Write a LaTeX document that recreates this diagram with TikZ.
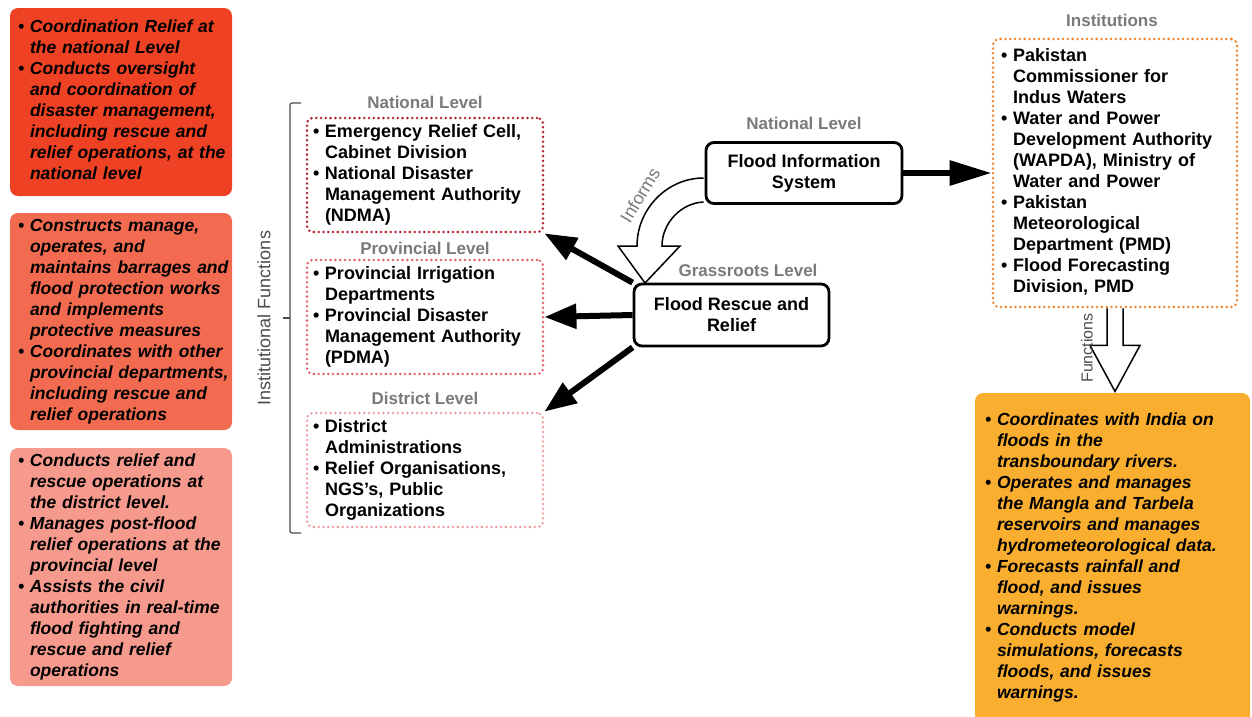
\documentclass[tikz,border=0pt]{standalone}
\usepackage{fontspec}
\setmainfont{Liberation Sans}
\usetikzlibrary{arrows.meta,calc}
\definecolor{natred}{HTML}{EF4123}
\definecolor{provred}{HTML}{F26B50}
\definecolor{distred}{HTML}{F59A8D}
\definecolor{fnorange}{HTML}{F9AE30}
\definecolor{ndmared}{HTML}{B3232F}
\definecolor{pdmared}{HTML}{E5606A}
\definecolor{distpink}{HTML}{EE9EA6}
\definecolor{instorange}{HTML}{F0862E}
\definecolor{lvlgray}{HTML}{7A7A7A}
\newcommand{\bl}{\makebox[12pt][l]{\textbullet}}
\newcommand{\il}{\hspace*{12pt}}
\newcommand{\lines}[1]{\begin{tabular}{@{}l@{}}#1\end{tabular}}
\begin{document}
\begin{tikzpicture}[x=1pt,y=-1pt,
  fnbox/.style={rounded corners=8pt,text width=206pt,inner xsep=8pt,minimum width=222pt,align=left,font=\fontsize{17.5}{21}\selectfont\bfseries\itshape},
  lvlbox/.style={draw,rounded corners=6pt,line width=2.8pt,dash pattern=on 0pt off 4.8pt,line cap=round,text width=224pt,inner xsep=6pt,minimum width=236pt,minimum height=114pt,align=left,font=\fontsize{18}{21}\selectfont\bfseries},
  lvl/.style={text=lvlgray,font=\fontsize{17}{19}\selectfont\bfseries},
  side/.style={text=black!70,font=\fontsize{18}{20}\selectfont},
  sysbox/.style={draw,line width=2.8pt,rounded corners=8pt,minimum width=196pt,minimum height=61pt,align=center,font=\fontsize{18}{21}\selectfont\bfseries},
  bigarrow/.style={line width=6pt,-{Triangle[length=32pt,width=24pt]}},
  hollow/.style={line width=1.5pt,fill=white,line join=miter}]
\useasboundingbox (0,0) rectangle (1252,716);

\node[fnbox,fill=natred,minimum height=188pt] (fn1) at (121,102) {\lines{
\bl Coordination Relief at\\ \il the national Level\\
\bl Conducts oversight\\ \il and coordination of\\ \il disaster management,\\ \il including rescue and\\ \il relief operations, at the\\ \il national level}};
\node[fnbox,fill=provred,minimum height=217pt] (fn2) at (121,321.5) {\lines{
\bl Constructs manage,\\ \il operates, and\\ \il maintains barrages and\\ \il flood protection works\\ \il and implements\\ \il protective measures\\
\bl Coordinates with other\\ \il provincial departments,\\ \il including rescue and\\ \il relief operations}};
\node[fnbox,fill=distred,minimum height=238pt] (fn3) at (121,567) {\lines{
\bl Conducts relief and\\ \il rescue operations at\\ \il the district level.\\
\bl Manages post-flood\\ \il relief operations at the\\ \il provincial level\\
\bl Assists the civil\\ \il authorities in real-time\\ \il flood fighting and\\ \il rescue and relief\\ \il operations}};

\draw[black!70,line width=1.2pt,rounded corners=2pt] (301,103) -- (290,103) -- (290,533) -- (301,533);
\draw[black!70,line width=1.2pt] (290,318) -- (283,318);
\node[side,rotate=90] (instfn) at (264,318) {Institutional Functions};

\node[lvl] (natlbl) at (425,102) {National Level};
\node[lvlbox,draw=ndmared] (ndma) at (425,175) {\lines{
\bl Emergency Relief Cell,\\ \il Cabinet Division\\
\bl National Disaster\\ \il Management Authority\\ \il (NDMA)}};
\node[lvl] (provlbl) at (425,248) {Provincial Level};
\node[lvlbox,draw=pdmared] (pdma) at (425,317) {\lines{
\bl Provincial Irrigation\\ \il Departments\\
\bl Provincial Disaster\\ \il Management Authority\\ \il (PDMA)}};
\node[lvl] (distlbl) at (425,398) {District Level};
\node[lvlbox,draw=distpink] (dist) at (425,470) {\lines{
\bl District\\ \il Administrations\\
\bl Relief Organisations,\\ \il NGS’s, Public\\ \il Organizations}};

\node[lvl] (fislbl) at (804,123) {National Level};
\node[sysbox] (fis) at (804,173) {Flood Information\\System};
\node[lvl] (frrlbl) at (748,270) {Grassroots Level};
\node[sysbox,minimum width=195pt,minimum height=62pt] (frr) at (731.5,315) {Flood Rescue and\\Relief};

\node[lvl] (instlbl) at (1112,20) {Institutions};
\node[lvlbox,draw=instorange,text width=228pt,inner xsep=8pt,minimum width=244pt,minimum height=268pt] (inst) at (1115,173) {\lines{
\bl Pakistan\\ \il Commissioner for\\ \il Indus Waters\\
\bl Water and Power\\ \il Development Authority\\ \il (WAPDA), Ministry of\\ \il Water and Power\\
\bl Pakistan\\ \il Meteorological\\ \il Department (PMD)\\
\bl Flood Forecasting\\ \il Division, PMD}};
\node[fnbox,fill=fnorange,text width=255pt,inner xsep=10pt,minimum width=275pt,minimum height=330pt] (fn4) at (1112.5,558) {\lines{
\bl Coordinates with India on\\ \il floods in the\\ \il transboundary rivers.\\
\bl Operates and manages\\ \il the Mangla and Tarbela\\ \il reservoirs and manages\\ \il hydrometeorological data.\\
\bl Forecasts rainfall and\\ \il flood, and issues\\ \il warnings.\\
\bl Conducts model\\ \il simulations, forecasts\\ \il floods, and issues\\ \il warnings.}};

\foreach \a/\b in {frr.north west/ndma.south east,frr.west/pdma.east,frr.south west/dist.north east}
  \draw[bigarrow] (\a) -- (\b);
\draw[line width=6pt,-{Triangle[length=42pt,width=24pt]}] (fis.east) -- (inst.west);

\draw[hollow] ($(fis.west)+(-1,5)$) .. controls (667,178) and (637,209) .. (637,246) -- (618,246) -- (645,283) -- (680,246) -- (662,246) .. controls (662,223) and (681,203) .. ($(fis.west)+(-1,29)$);
\node[side,text=lvlgray,rotate=59] (informs) at (640,195) {Informs};

\draw[hollow] ($(inst.south)+(-8,0)$) -- ++(0,37) -- ++(-17,0) -- ($(inst.south)+(0,83)$) -- ($(inst.south)+(25,37)$) -- ++(-17,0) -- ($(inst.south)+(8,0)$);
\node[side,font=\fontsize{16}{18}\selectfont,rotate=90] (fnlbl) at (1087,348) {Functions};
\end{tikzpicture}
\end{document}
